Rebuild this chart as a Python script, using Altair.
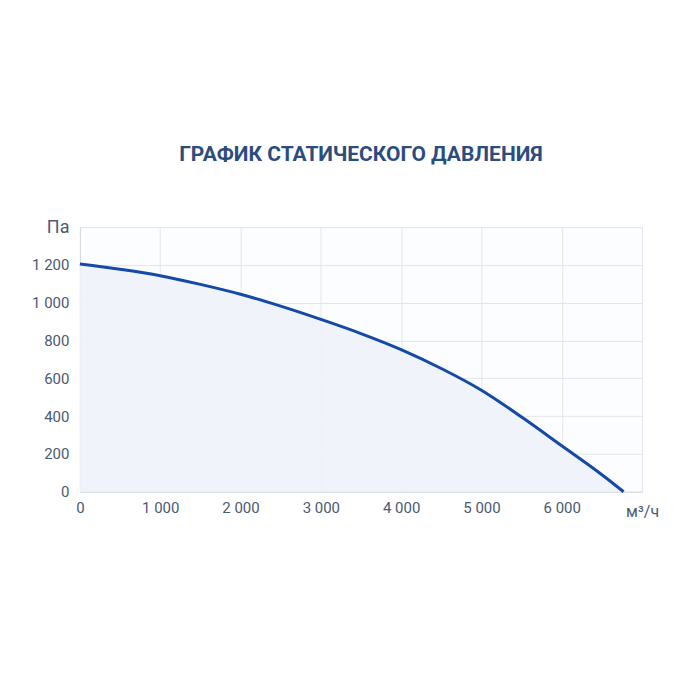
import altair as alt
import pandas as pd

flow = [0, 500, 1000, 1500, 2000, 2500, 3000, 3500, 4000, 4500, 5000, 5500, 6000, 6500, 6770]
pressure = [1205, 1177, 1143, 1097, 1045, 982, 912, 837, 752, 652, 537, 395, 243, 90, 0]

x_ticks = [0, 1000, 2000, 3000, 4000, 5000, 6000, 7000]
y_ticks = [0, 200, 400, 600, 800, 1000, 1200, 1400]

title_text = "ГРАФИК СТАТИЧЕСКОГО ДАВЛЕНИЯ"
x_unit = "м³/ч"
y_unit = "Па"

df = pd.DataFrame({"flow": flow, "pressure": pressure})

label_color = "#4b5a73"
grid_color = "#e2e6ec"
line_color = "#1549a8"

x_enc = alt.X(
    "flow:Q",
    scale=alt.Scale(domain=[0, 7000], nice=False),
    axis=alt.Axis(
        values=x_ticks,
        title=None,
        grid=True,
        gridColor=grid_color,
        domainColor="#d5d9e0",
        ticks=False,
        labelPadding={"condition": {"test": "datum.value == 7000", "value": 12}, "value": 9},
        labelFontSize={"condition": {"test": "datum.value == 7000", "value": 16}, "value": 15},
        labelOverlap=False,
        labelExpr=f"datum.value == 7000 ? '{x_unit}' : replace(format(datum.value, ','), ',', ' ')",
        labelFlush=False,
    ),
)
y_enc = alt.Y(
    "pressure:Q",
    scale=alt.Scale(domain=[0, 1400], nice=False),
    axis=alt.Axis(
        values=y_ticks,
        title=None,
        grid=True,
        gridColor=grid_color,
        domainColor="#d5d9e0",
        ticks=False,
        labelPadding=11,
        labelFontSize={"condition": {"test": "datum.value == 1400", "value": 18}, "value": 15},
        labelOverlap=False,
        labelExpr=f"datum.value == 1400 ? '{y_unit}' : replace(format(datum.value, ','), ',', ' ')",
        labelFlush=False,
    ),
)

base = alt.Chart(df).encode(x=x_enc, y=y_enc)
area = base.mark_area(color="#eef3fa", opacity=0.9, interpolate="monotone")
line = base.mark_line(color=line_color, strokeWidth=3, interpolate="monotone")

chart = (
    alt.layer(area, line)
    .properties(
        width=563,
        height=265,
        title=alt.TitleParams(
            title_text,
            fontSize=21,
            fontWeight="bold",
            color="#2b4c7e",
            font="Roboto",
            anchor="middle",
            offset=53,
        ),
        autosize=alt.AutoSizeParams(type="none"),
        padding={"left": 72, "top": 219, "right": 50, "bottom": 120},
    )
    .configure_axis(labelFont="Roboto", labelColor=label_color)
    .configure_view(stroke=None, fill="#fcfdfe")
)

chart.save("out.html", embed_options={"renderer": "svg", "actions": False})
